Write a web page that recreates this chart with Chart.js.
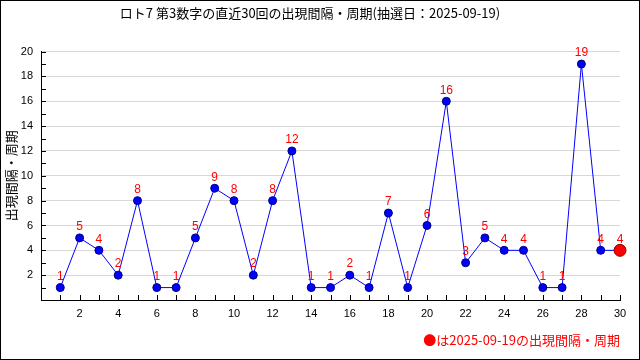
<!DOCTYPE html>
<html>
<head>
<meta charset="utf-8">
<script src="https://cdn.jsdelivr.net/npm/chart.js@4.4.1/dist/chart.umd.min.js"></script>
<style>
  body { margin: 0; background: #fff; }
</style>
</head>
<body>
<canvas id="chart" width="640" height="360"></canvas>
<script>
// data
const kaisu = [1, 2, 3, 4, 5, 6, 7, 8, 9, 10, 11, 12, 13, 14, 15, 16, 17, 18, 19, 20, 21, 22, 23, 24, 25, 26, 27, 28, 29, 30];
const kankaku = [1, 5, 4, 2, 8, 1, 1, 5, 9, 8, 2, 8, 12, 1, 1, 2, 1, 7, 1, 6, 16, 3, 5, 4, 4, 1, 1, 19, 4, 4];
const xTicks = [2, 4, 6, 8, 10, 12, 14, 16, 18, 20, 22, 24, 26, 28, 30];
const yTicks = [2, 4, 6, 8, 10, 12, 14, 16, 18, 20];

const titleText = 'ロト7 第3数字の直近30回の出現間隔・周期(抽選日：2025-09-19)';
const yTitle = '出現間隔・周期';
const noteText = '●は2025-09-19の出現間隔・周期';

const jpFont = '"Noto Sans CJK JP", "DejaVu Sans", sans-serif';
const numFont = '"Liberation Sans", "DejaVu Sans", sans-serif';

const last = kankaku.length - 1;
const fills = kankaku.map((v, i) => i === last ? '#ff0000' : '#0000ff');
const borders = kankaku.map((v, i) => i === last ? '#8b0000' : '#000080');
const radii = kankaku.map((v, i) => i === last ? 6 : 4);

// red numbers above the points
const pointLabels = {
  id: 'pointLabels',
  afterDatasetsDraw(chart) {
    const { ctx } = chart;
    const meta = chart.getDatasetMeta(0);
    ctx.save();
    ctx.fillStyle = '#ff0000';
    ctx.font = '12px ' + numFont;
    ctx.textAlign = 'center';
    ctx.textBaseline = 'bottom';
    meta.data.forEach((pt, i) => {
      ctx.fillText(kankaku[i], pt.x, pt.y - 5);
    });
    ctx.restore();
  },
};

// inward tick marks + outer frame
const frame = {
  id: 'frame',
  afterDraw(chart) {
    const { ctx, chartArea } = chart;
    const xs = chart.scales.x;
    const ys = chart.scales.y;
    ctx.save();
    ctx.strokeStyle = '#000';
    ctx.lineWidth = 1;
    ctx.beginPath();
    ys.ticks.forEach(t => {
      if (t.value === 0) return;
      const y = Math.round(ys.getPixelForValue(t.value)) + 0.5;
      ctx.moveTo(chartArea.left, y);
      ctx.lineTo(chartArea.left + 5, y);
    });
    xs.ticks.forEach(t => {
      if (t.value === 0) return;
      const x = Math.round(xs.getPixelForValue(t.value)) + 0.5;
      ctx.moveTo(x, chartArea.bottom);
      ctx.lineTo(x, chartArea.bottom - 5);
    });
    ctx.stroke();
    ctx.strokeRect(0.5, 0.5, chart.width - 1, chart.height - 1);
    ctx.restore();
  },
};

const ctx = document.getElementById('chart');
new Chart(ctx, {
  type: 'line',
  plugins: [pointLabels, frame],
  data: {
    datasets: [{
      data: kaisu.map((k, i) => ({ x: k, y: kankaku[i] })),
      borderColor: '#0000ff',
      borderWidth: 1,
      tension: 0,
      clip: false,
      pointBackgroundColor: fills,
      pointBorderColor: borders,
      pointBorderWidth: 1,
      pointRadius: radii,
    }],
  },
  options: {
    responsive: false,
    animation: false,
    layout: { padding: { left: 0, right: 20, top: 0, bottom: 0 } },
    plugins: {
      legend: { display: false },
      tooltip: { enabled: false },
      title: {
        display: true,
        text: titleText,
        color: '#000',
        font: { family: jpFont, size: 13, weight: 'normal', lineHeight: 1.2 },
        padding: { top: 5, bottom: 31 },
      },
    },
    scales: {
      x: {
        type: 'linear',
        min: 0,
        max: 30,
        afterFit(scale) { scale.height = 60; },
        ticks: {
          stepSize: 1,
          autoSkip: false,
          maxRotation: 0,
          padding: 7,
          color: '#000',
          font: { family: numFont, size: 11 },
          callback: v => xTicks.includes(v) ? String(v) : '',
        },
        grid: { drawOnChartArea: false, drawTicks: false },
        border: { color: '#000', width: 1 },
        title: {
          display: true,
          text: noteText,
          align: 'end',
          color: '#ff0000',
          font: { family: jpFont, size: 13, lineHeight: 1.2 },
          padding: { top: 0, bottom: 12 },
        },
      },
      y: {
        min: 0,
        max: 20,
        afterFit(scale) { scale.width = 41; },
        ticks: {
          stepSize: 1,
          autoSkip: false,
          padding: 8,
          color: '#000',
          font: { family: numFont, size: 11 },
          callback: v => yTicks.includes(v) ? String(v) : '',
        },
        grid: {
          drawTicks: false,
          color: c => yTicks.includes(c.tick.value) ? '#d8d8d8' : 'rgba(0,0,0,0)',
        },
        border: { color: '#000', width: 1 },
        title: {
          display: true,
          text: yTitle,
          color: '#000',
          font: { family: jpFont, size: 13, lineHeight: 1.2 },
          padding: { top: 3, bottom: 0 },
        },
      },
    },
  },
});
</script>
</body>
</html>
